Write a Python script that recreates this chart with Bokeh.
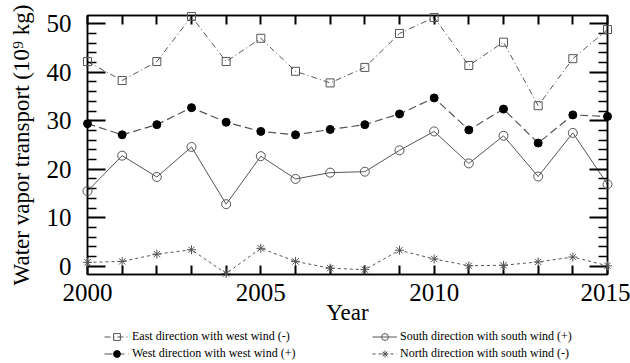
from bokeh.plotting import figure
from bokeh.models import Range1d, LinearAxis, FixedTicker, Legend, LegendItem
from bokeh.layouts import column
from bokeh.embed import file_html
from bokeh.resources import INLINE

years = [2000, 2001, 2002, 2003, 2004, 2005, 2006, 2007,
         2008, 2009, 2010, 2011, 2012, 2013, 2014, 2015]
east = [42.2, 38.3, 42.2, 51.5, 42.2, 47.0, 40.2, 37.8,
        41.0, 48.0, 51.3, 41.4, 46.2, 33.1, 42.8, 48.8]
west = [29.4, 27.1, 29.2, 32.7, 29.7, 27.8, 27.1, 28.2,
        29.2, 31.4, 34.7, 28.1, 32.4, 25.4, 31.2, 30.9]
south = [15.5, 22.8, 18.4, 24.6, 12.8, 22.7, 18.0, 19.3,
         19.5, 23.9, 27.8, 21.2, 26.9, 18.5, 27.5, 16.9]
north = [0.8, 1.0, 2.5, 3.4, -1.5, 3.7, 1.0, -0.4,
         -0.7, 3.3, 1.5, 0.1, 0.2, 0.9, 1.9, 0.1]

labels = ["East direction with west wind (-)",
          "West direction with west wind (+)",
          "South direction with south wind (+)",
          "North direction with south wind (-)"]

y_major = [0, 10, 20, 30, 40, 50]
y_minor = [2, 4, 6, 8, 12, 14, 16, 18, 22, 24, 26, 28, 32, 34, 36, 38, 42, 44, 46, 48]
x_major = [2000, 2005, 2010, 2015]
x_minor = [2001, 2002, 2003, 2004, 2006, 2007, 2008, 2009,
           2011, 2012, 2013, 2014]

FONT = "Liberation Serif"
GRAY = "#555555"

styles = [
    dict(line=dict(line_color=GRAY, line_width=1, line_dash="6 3 1 3"),
         mark=dict(marker="square", size=8, fill_color="white", fill_alpha=0,
                   line_color=GRAY, line_width=1)),
    dict(line=dict(line_color=GRAY, line_width=1.2, line_dash="8 4"),
         mark=dict(marker="circle", size=8, fill_color="black", line_color="black")),
    dict(line=dict(line_color=GRAY, line_width=1),
         mark=dict(marker="circle", size=9, fill_color="white", fill_alpha=0,
                   line_color=GRAY, line_width=1)),
    dict(line=dict(line_color=GRAY, line_width=1, line_dash="3 3"),
         mark=dict(marker="asterisk", size=9, line_color=GRAY, line_width=1)),
]
series = [east, west, south, north]

p = figure(width=630, height=327, output_backend="svg", toolbar_location=None,
           x_range=Range1d(2000, 2015), y_range=Range1d(-1.7, 51.7),
           x_axis_type=None, y_axis_type=None,
           min_border_left=87, min_border_right=23, min_border_top=15,
           min_border_bottom=51)
p.outline_line_color = "black"
p.outline_line_width = 1.5
p.background_fill_color = "white"
p.border_fill_color = "white"

# axes
left = LinearAxis(ticker=FixedTicker(ticks=y_major, minor_ticks=y_minor),
                  axis_label="Water vapor transport (10\u2079 kg)")
right = LinearAxis(ticker=FixedTicker(ticks=y_major, minor_ticks=y_minor))
for ax in (left, right):
    ax.major_tick_in = 18
    ax.major_tick_out = 0
    ax.minor_tick_in = 9
    ax.minor_tick_out = 0
    ax.major_tick_line_width = 2
    ax.minor_tick_line_width = 1.5
    ax.axis_line_width = 1.5
    ax.axis_line_color = "black"
left.major_label_standoff = 16
left.major_label_text_font = FONT
left.major_label_text_font_size = "25px"
left.major_label_text_color = "black"
left.axis_label_text_font = FONT
left.axis_label_text_font_size = "23px"
left.axis_label_text_font_style = "normal"
left.axis_label_text_color = "black"
left.axis_label_standoff = 10
right.major_label_text_color = None
right.major_label_standoff = 0
right.major_label_text_font_size = "1px"

bottom = LinearAxis(ticker=FixedTicker(ticks=x_major, minor_ticks=x_minor),
                    axis_label="Year")
top = LinearAxis(ticker=FixedTicker(ticks=x_major, minor_ticks=x_minor))
for ax in (bottom, top):
    ax.major_tick_in = 9
    ax.major_tick_out = 0
    ax.minor_tick_in = 9
    ax.minor_tick_out = 0
    ax.major_tick_line_width = 2
    ax.minor_tick_line_width = 2
    ax.axis_line_width = 1.5
    ax.axis_line_color = "black"
bottom.major_label_standoff = 9
bottom.major_label_text_font = FONT
bottom.major_label_text_font_size = "25px"
bottom.major_label_text_color = "black"
bottom.axis_label_text_font = FONT
bottom.axis_label_text_font_size = "23px"
bottom.axis_label_text_font_style = "normal"
bottom.axis_label_text_color = "black"
bottom.axis_label_standoff = -4
top.major_label_text_color = None
top.major_label_standoff = 0
top.major_label_text_font_size = "1px"

p.add_layout(left, "left")
p.add_layout(right, "right")
p.add_layout(bottom, "below")
p.add_layout(top, "above")

# series
for vals, st in zip(series, styles):
    p.line(years, vals, **st["line"])
    p.scatter(years, vals, level="overlay", **st["mark"])

# legend strip below the chart (its frame is aligned with the chart's frame)
q = figure(width=630, height=36, output_backend="svg", toolbar_location=None,
           x_range=Range1d(0, 1), y_range=Range1d(0, 1),
           x_axis_type=None, y_axis_type=None,
           min_border_left=87, min_border_right=23, min_border_top=0,
           min_border_bottom=0)
q.outline_line_color = None
q.background_fill_color = "white"
q.border_fill_color = "white"

items = []
for lab, vals, st in zip(labels, series, styles):
    lr = q.line(years, vals, visible=False, **st["line"])
    mr = q.scatter(years, vals, visible=False, **st["mark"])
    items.append(LegendItem(label=lab, renderers=[lr, mr]))

def make_legend(its, loc):
    lg = Legend(items=its, location=loc)
    lg.padding = 0
    lg.margin = 0
    lg.spacing = 0
    lg.glyph_width = 25
    lg.glyph_height = 17
    lg.label_height = 17
    lg.label_standoff = 3
    lg.label_text_font = FONT
    lg.label_text_font_size = "12px"
    lg.label_text_color = "black"
    lg.border_line_color = None
    lg.background_fill_alpha = 0
    lg.inactive_fill_alpha = 0
    lg.click_policy = "none"
    return lg

q.add_layout(make_legend(items[:2], (17, 1)), "center")
q.add_layout(make_legend(items[2:], (285, 1)), "center")

open("out.html", "w").write(file_html(column(p, q, spacing=0), INLINE))
